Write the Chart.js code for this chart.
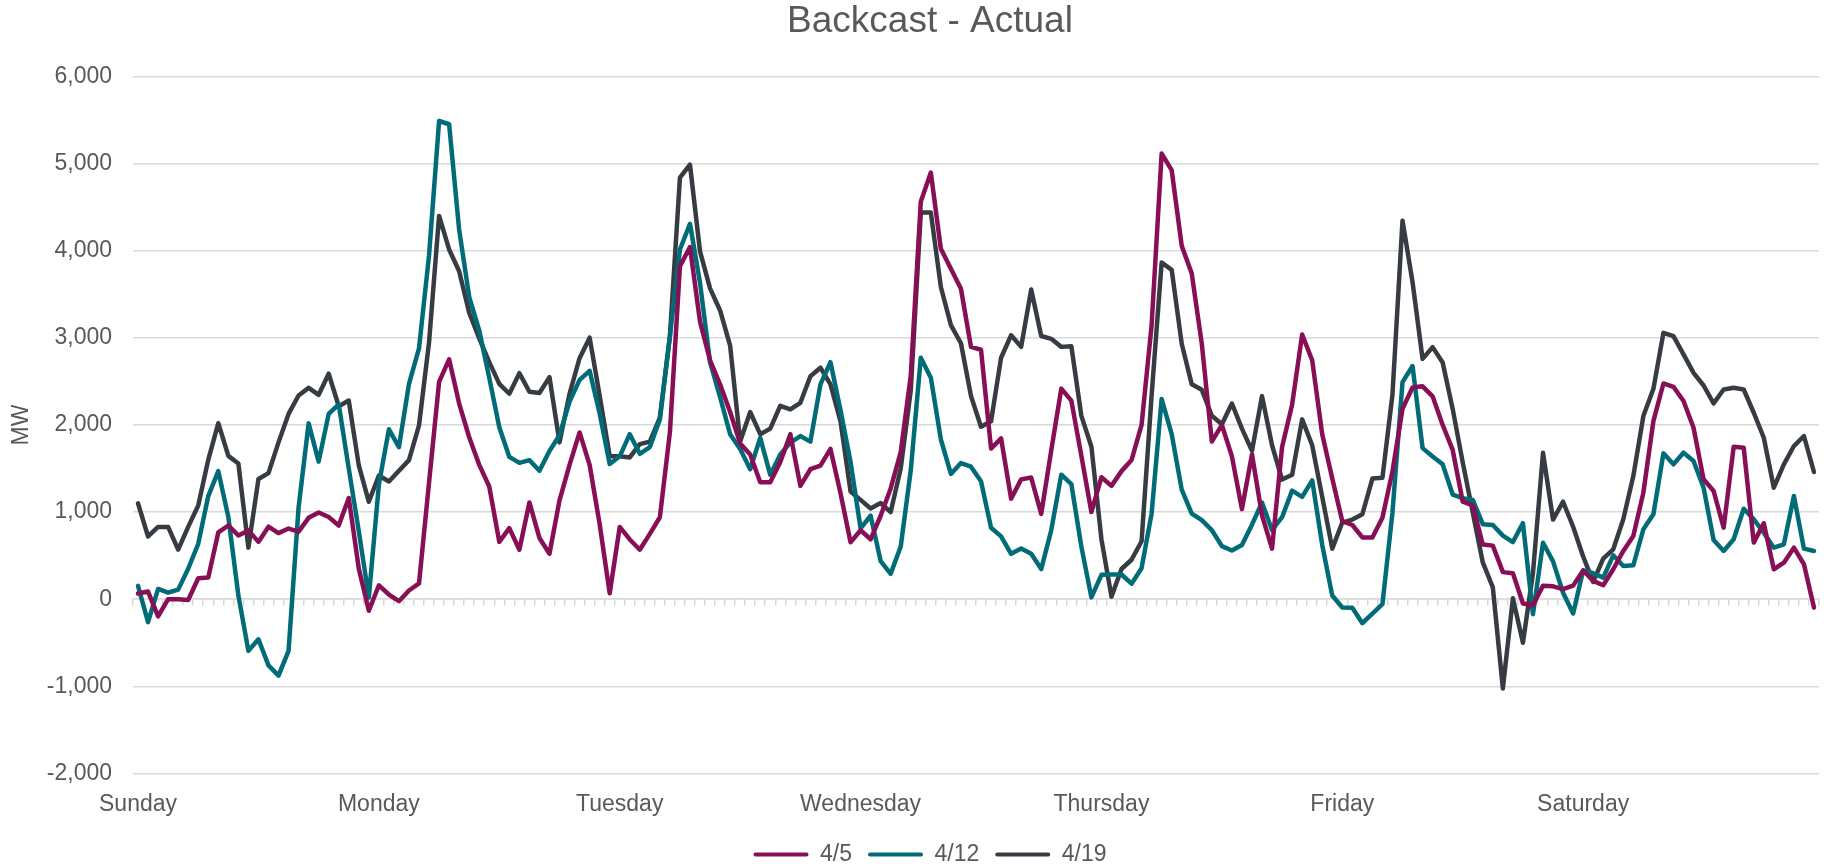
<!DOCTYPE html>
<html>
<head>
<meta charset="utf-8">
<script src="https://cdn.jsdelivr.net/npm/chart.js@4.4.1/dist/chart.umd.min.js"></script>
<style>
  html, body { margin: 0; padding: 0; background: #ffffff; }
  #wrap { width: 1831px; height: 866px; }
</style>
</head>
<body>
<div id="wrap"><canvas id="c" width="1831" height="866"></canvas></div>
<script>
// ---- data ----
const dayNames = ['Sunday', 'Monday', 'Tuesday', 'Wednesday', 'Thursday', 'Friday', 'Saturday'];
const hoursPerDay = 24;
const seriesNames = ['4/5', '4/12', '4/19'];

const series4_5 = [
  66, 88, -197, 0, 0, -9, 241, 250, 767, 846, 732, 790, 658, 833, 759, 811, 776, 934, 996, 943, 846, 1162, 351, -132,
  160, 54, -23, 100, 181, 1340, 2494, 2753, 2245, 1859, 1542, 1293, 658, 816, 567, 1111, 703, 522, 1134, 1542, 1914, 1542, 862, 68,
  830, 686, 568, 750, 941, 1915, 3822, 4042, 3186, 2742, 2466, 2148, 1788, 1661, 1343, 1343, 1576, 1894, 1301, 1492, 1534, 1725, 1216, 653,
  792, 688, 958, 1271, 1688, 2563, 4563, 4896, 4021, 3792, 3563, 2896, 2863, 1729, 1846, 1154, 1375, 1396, 979, 1708, 2417, 2279, 1646, 1000,
  1400, 1301, 1470, 1597, 2000, 3144, 5114, 4924, 4055, 3737, 2932, 1809, 2000, 1640, 1034, 1661, 962, 581, 1746, 2233, 3038, 2742, 1894, 1386,
  895, 852, 709, 709, 934, 1467, 2184, 2430, 2443, 2328, 2000, 1713, 1119, 1078, 627, 615, 311, 299, -49, -70, 156, 148, 115, 156,
  330, 210, 160, 344, 554, 726, 1223, 2044, 2476, 2438, 2274, 1968, 1376, 1242, 822, 1750, 1739, 650, 871, 344, 420, 592, 401, -96
];

const series4_12 = [
  153, -263, 118, 75, 110, 350, 636, 1184, 1470, 943, 44, -592, -460, -759, -877, -592, 1053, 2018, 1579, 2127, 2237, 1500, 780, 20,
  1315, 1950, 1746, 2472, 2880, 3946, 5488, 5451, 4240, 3469, 3084, 2540, 1973, 1633, 1565, 1596, 1474, 1701, 1882, 2268, 2517, 2621, 2132, 1551,
  1640, 1894, 1669, 1746, 2064, 3017, 4013, 4309, 3631, 2720, 2318, 1894, 1725, 1492, 1852, 1428, 1661, 1797, 1873, 1809, 2466, 2720, 2169, 1576,
  814, 958, 438, 292, 604, 1479, 2771, 2542, 1833, 1438, 1563, 1521, 1354, 821, 721, 521, 583, 521, 346, 792, 1429, 1321, 604, 21,
  280, 284, 284, 178, 356, 983, 2297, 1894, 1258, 983, 907, 792, 610, 559, 623, 856, 1110, 792, 941, 1246, 1174, 1364, 623, 42,
  -95, -98, -275, -164, -57, 996, 2492, 2676, 1734, 1639, 1549, 1201, 1160, 1139, 861, 852, 730, 656, 873, -172, 648, 434, 74, -164,
  330, 298, 248, 504, 382, 390, 802, 974, 1674, 1548, 1681, 1586, 1280, 680, 554, 688, 1039, 917, 764, 592, 630, 1185, 581, 554
];

const series4_19 = [
  1100, 720, 830, 830, 570, 830, 1075, 1600, 2020, 1645, 1557, 592, 1380, 1447, 1800, 2127, 2338, 2425, 2346, 2588, 2215, 2280, 1535, 1118,
  1420, 1351, 1474, 1596, 1995, 2948, 4399, 4014, 3764, 3288, 2993, 2721, 2472, 2358, 2594, 2381, 2367, 2549, 1800, 2358, 2766, 3002, 2336, 1642,
  1640, 1627, 1780, 1809, 2085, 3017, 4839, 4987, 3992, 3568, 3314, 2911, 1809, 2148, 1894, 1958, 2220, 2178, 2254, 2559, 2657, 2466, 2042, 1237,
  1140, 1042, 1104, 1000, 1500, 2396, 4438, 4438, 3583, 3146, 2938, 2333, 1979, 2042, 2771, 3029, 2896, 3554, 3021, 2988, 2896, 2904, 2104, 1750,
  688, 30, 347, 453, 665, 2339, 3864, 3780, 2932, 2466, 2403, 2106, 2008, 2246, 1958, 1703, 2331, 1767, 1373, 1428, 2064, 1767, 1174, 581,
  880, 914, 975, 1385, 1393, 2348, 4344, 3639, 2758, 2893, 2717, 2184, 1570, 996, 422, 135, -1025, 12, -500, 300, 1680, 914, 1119, 832,
  490, 199, 466, 573, 917, 1414, 2102, 2415, 3057, 3019, 2809, 2598, 2453, 2247, 2407, 2426, 2407, 2140, 1853, 1280, 1548, 1758, 1873, 1460
];

const yTickMin = -2000;
const yTickMax = 6000;
const yTickStep = 1000;

// category labels: day name on the first hour of each day
const hourLabels = [];
dayNames.forEach(d => { for (let h = 0; h < hoursPerDay; h++) hourLabels.push(h === 0 ? d : ''); });

// ---- chart ----
const TEXT = '#595959';
const GRID = '#d9d9d9';
const colors = ['#880E56', '#016C77', '#363C42'];
const seriesData = [series4_5, series4_12, series4_19];

Chart.defaults.font.family = '"Liberation Sans", Arial, Helvetica, sans-serif';
Chart.defaults.color = TEXT;

const PAD_LEFT = 40;

new Chart(document.getElementById('c'), {
  type: 'line',
  data: {
    labels: hourLabels,
    datasets: seriesNames.map((n, i) => ({
      label: n,
      data: seriesData[i],
      borderColor: colors[i],
      backgroundColor: colors[i],
      borderWidth: 4.5,
      pointRadius: 0,
      pointHoverRadius: 0,
      tension: 0,
      fill: false,
      borderJoinStyle: 'round',
      borderCapStyle: 'round',
      xAxisID: 'x',
      yAxisID: 'y'
    }))
  },
  options: {
    responsive: false,
    animation: false,
    devicePixelRatio: 1,
    layout: { padding: { left: PAD_LEFT, right: 11, top: 0, bottom: -10 } },
    plugins: {
      tooltip: { enabled: false },
      title: {
        display: true,
        text: 'Backcast - Actual',
        color: TEXT,
        font: { size: 37, weight: 'normal' },
        padding: { top: 0, bottom: 32 }
      },
      legend: {
        position: 'bottom',
        labels: {
          boxWidth: 55,
          boxHeight: 4,
          padding: 16,
          color: TEXT,
          font: { size: 23 },
          useBorderRadius: true,
          borderRadius: 2,
          generateLabels: (chart) => {
            const items = Chart.defaults.plugins.legend.labels.generateLabels(chart);
            items.forEach(it => { it.lineWidth = 0; it.fillStyle = it.strokeStyle; });
            return items;
          }
        }
      }
    },
    scales: {
      x: {
        type: 'category',
        position: 'bottom',
        offset: true,
        grid: { display: false, drawTicks: false },
        border: { display: false },
        ticks: {
          autoSkip: false,
          maxRotation: 0,
          minRotation: 0,
          padding: 17,
          color: TEXT,
          font: { size: 23 }
        },
        afterFit: (s) => { s.height = 53.5; }
      },
      x2: {
        type: 'category',
        position: { y: 0 },
        offset: true,
        grid: {
          offset: true,
          drawOnChartArea: false,
          drawTicks: true,
          tickLength: 6,
          color: GRID,
          lineWidth: 1.5
        },
        border: { display: true, color: GRID, width: 1.5 },
        ticks: { display: false, autoSkip: false }
      },
      y: {
        type: 'linear',
        position: 'left',
        min: yTickMin,
        max: yTickMax,
        ticks: {
          stepSize: yTickStep,
          padding: 21,
          color: TEXT,
          font: { size: 23 },
          callback: (v) => Number(v).toLocaleString('en-US')
        },
        grid: { color: GRID, lineWidth: 1.5, drawTicks: false },
        border: { display: false },
        title: {
          display: true,
          text: 'MW',
          color: TEXT,
          font: { size: 23 },
          padding: { top: 22 - 13.8 - PAD_LEFT, bottom: 0 }
        },
        afterFit: (s) => { s.width = 133 - PAD_LEFT; }
      }
    }
  }
});
</script>
</body>
</html>
